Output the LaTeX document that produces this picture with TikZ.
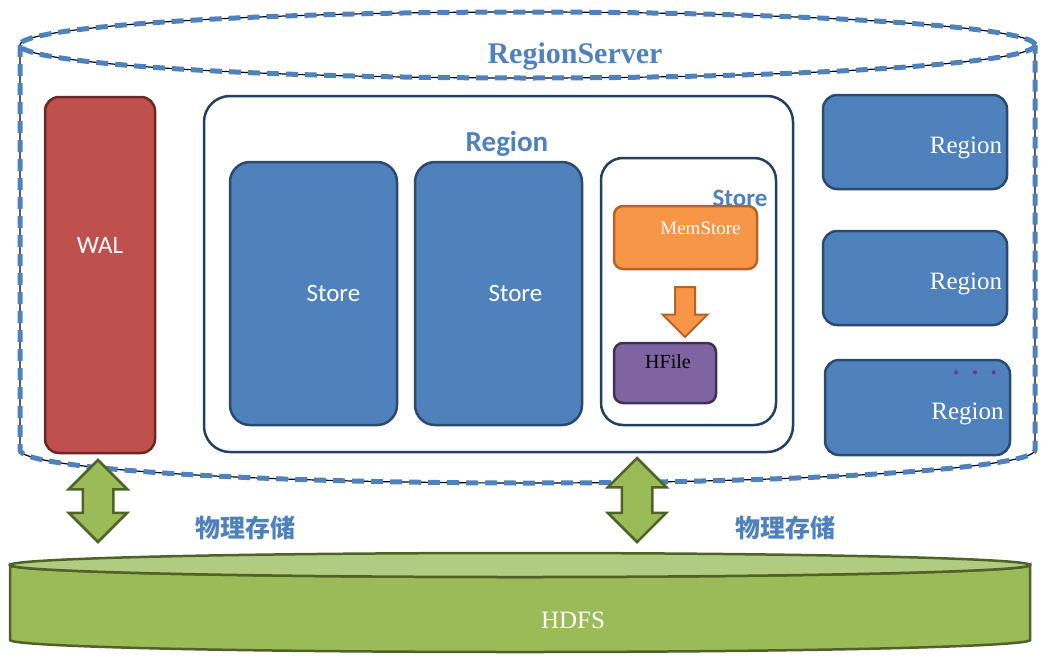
\documentclass[tikz,border=0pt]{standalone}
\usepackage{fontspec}
\setmainfont{Liberation Serif}
\setsansfont{Carlito}
\newfontfamily\cjk{Noto Sans CJK SC}
\usepackage{tikz}
\usetikzlibrary{shapes.arrows,positioning}
\definecolor{rsblue}{RGB}{79,129,189}
\definecolor{stblue}{RGB}{79,129,189}
\definecolor{stedge}{RGB}{44,74,110}
\definecolor{rgedge}{RGB}{36,64,97}
\definecolor{walred}{RGB}{192,80,77}
\definecolor{waledge}{RGB}{105,40,38}
\definecolor{msorange}{RGB}{247,150,70}
\definecolor{msedge}{RGB}{182,100,40}
\definecolor{hfpurple}{RGB}{128,100,162}
\definecolor{hfedge}{RGB}{63,49,81}
\definecolor{hdgreen}{RGB}{155,187,89}
\definecolor{hdtop}{RGB}{176,204,128}
\definecolor{hdedge}{RGB}{79,98,40}
\definecolor{dotpurple}{RGB}{112,48,160}

\begin{document}
\begin{tikzpicture}[
  x=1pt,y=-1pt,
  wtxt/.style={text=white,font=\fontsize{25}{25}\selectfont\sffamily},
  rtxt/.style={text=white,font=\fontsize{25}{25}\selectfont},
  btitle/.style={text=rsblue,font=\fontsize{29}{29}\selectfont\sffamily\bfseries},
  walbox/.style={draw=waledge,fill=walred,line width=2.5pt,rounded corners=14pt,inner sep=0pt},
  stbox/.style={draw=stedge,fill=stblue,line width=2.5pt,rounded corners=20pt,inner sep=0pt},
  rgbox/.style={draw=rgedge,fill=white,line width=2.5pt,rounded corners=26pt,inner sep=0pt},
  rbox/.style={draw=stedge,fill=stblue,line width=2.5pt,rounded corners=14pt,inner sep=0pt},
  memb/.style={draw=msedge,fill=msorange,line width=2.5pt,rounded corners=9pt,inner sep=0pt},
  hfb/.style={draw=hfedge,fill=hfpurple,line width=2.5pt,rounded corners=9pt,inner sep=0pt},
  downarr/.style={single arrow,draw=msedge,fill=msorange,line width=2pt,rotate=-90,
                  inner xsep=0pt,inner ysep=9pt,single arrow head extend=12.5pt,
                  minimum height=50pt},
  dblarr/.style={double arrow,draw=hdedge,fill=hdgreen,line width=2.5pt,rotate=90,
                 inner xsep=0pt,inner ysep=14pt,double arrow head extend=14pt},
  cjklbl/.style={text=rsblue,font=\fontsize{25}{25}\selectfont\cjk\bfseries},
  rsline/.style={draw=black,line width=1.2pt},
  rsdash/.style={draw=rsblue,line width=5pt,dash pattern=on 12pt off 7pt}
]
  \useasboundingbox (0,0) rectangle (1048,667);

  % RegionServer cylinder
  \foreach \sty in {rsline,rsdash} {
    \draw[\sty] (20,45) -- (20,450) arc[start angle=180,end angle=0,x radius=507.5,y radius=33] -- (1035,45);
    \draw[\sty] (527.5,45) ellipse[x radius=507.5,y radius=33];
  }
  \node[text=rsblue,font=\fontsize{30}{30}\selectfont\bfseries] (rs) at (575,56) {RegionServer};

  % WAL
  \node[walbox,minimum width=110pt,minimum height=356pt] (wal) at (100,275) {};
  \node[wtxt] at (wal.center) [yshift=30pt] {WAL};

  % Region with stores
  \node[rgbox,minimum width=589pt,minimum height=356pt] (region) at (498.5,274) {};
  \node[btitle] (regtitle) at (507,144) {Region};
  \node[stbox,minimum width=167pt,minimum height=263pt,
        label={[wtxt,xshift=20pt]center:Store}] (st1) at (313.5,293.5) {};
  \node[stbox,minimum width=167pt,minimum height=263pt,
        label={[wtxt,xshift=17pt]center:Store}] (st2) at (498.5,293.5) {};
  \node[rgbox,rounded corners=22pt,minimum width=175pt,minimum height=267pt] (st3) at (688.5,291.5) {};
  \node[text=rsblue,font=\fontsize{25}{25}\selectfont\sffamily\bfseries] (st3title) at (740,198) {Store};
  \node[memb,minimum width=143pt,minimum height=63pt,
        label={[text=white,font=\fontsize{19}{19}\selectfont,xshift=15pt,yshift=9pt]center:MemStore}] (mem) at (685.5,237.5) {};
  \node[downarr] (flush) at (685,307) {};
  \node[hfb,minimum width=102pt,minimum height=60pt,
        label={[font=\fontsize{20}{20}\selectfont,xshift=3pt,yshift=11pt]center:HFile}] (hfile) at (665,373) {};

  % other regions
  \node[rbox,minimum width=184pt,minimum height=94pt,
        label={[rtxt,xshift=51pt,yshift=-6pt]center:Region}] (r1) at (915,142) {};
  \node[rbox,minimum width=184pt,minimum height=94pt,
        label={[rtxt,xshift=51pt,yshift=-6pt]center:Region}] (r2) at (915,278) {};
  \node[rbox,minimum width=185pt,minimum height=95pt,
        label={[rtxt,xshift=50pt,yshift=-6pt]center:Region}] (r3) at (917.5,407.5) {};
  \node[text=dotpurple,font=\fontsize{25}{25}\selectfont\bfseries] (dots) at (975,373) {.\enspace.\enspace.};

  % HDFS cylinder
  \filldraw[draw=hdedge,fill=hdgreen,line width=2.5pt]
    (10,565) -- (10,640) arc[start angle=180,end angle=0,x radius=510,y radius=12]
    -- (1030,565) arc[start angle=0,end angle=180,x radius=510,y radius=12] -- cycle;
  \filldraw[draw=hdedge,fill=hdtop,line width=2.5pt] (520,565) ellipse[x radius=510,y radius=12];
  \node[rtxt] (hdfs) at (573,620) {HDFS};

  % physical storage
  \node[dblarr,minimum height=82pt] (io1) at (98,501) {};
  \node[dblarr,minimum height=84pt] (io2) at (637,500) {};
  \node[cjklbl] (lbl1) at (245,528) {物理存储};
  \node[cjklbl] (lbl2) at (785,528) {物理存储};
\end{tikzpicture}
\end{document}
